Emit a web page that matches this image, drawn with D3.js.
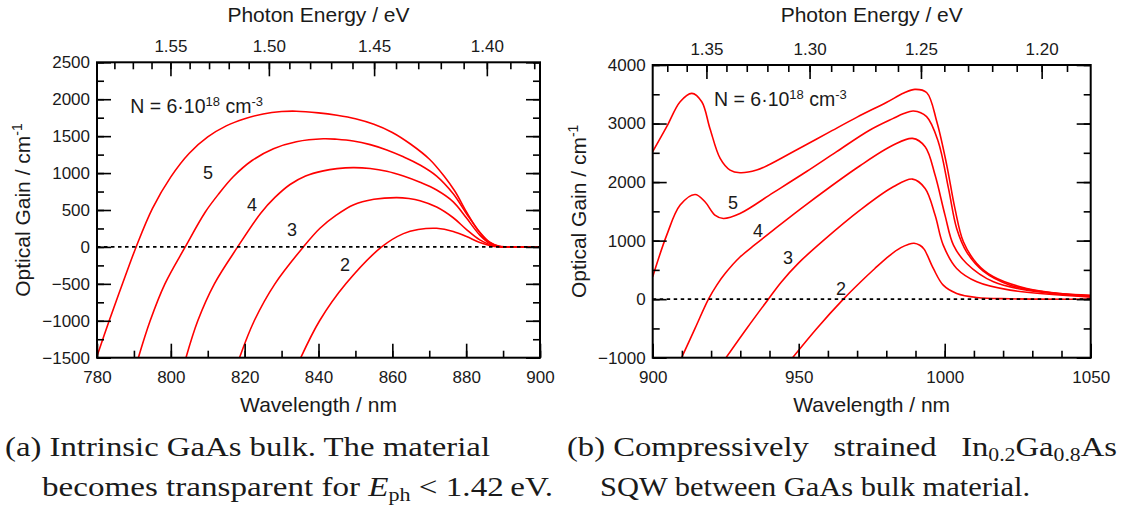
<!DOCTYPE html>
<meta charset="utf-8">
<html>

<head>
  <title>Optical gain spectra</title>
  <style>
    body { margin: 0; background: #fff; }
    text { font-family: "Liberation Sans", Arial, sans-serif; fill: #1a1a1a; }
    .cap { font-family: "Liberation Serif", "Times New Roman", serif; white-space: pre; }
  </style>
</head>

<body>
  <!-- Load d3.js -->
  <script src="https://d3js.org/d3.v7.min.js"></script>
  <div id="chart"></div>

  <script>
    // (a) intrinsic GaAs bulk : wavelength (nm) / gain (1/cm), one pair per curve label
    var bulkWl6 = [780, 783.3, 786.9, 790.6, 795, 800, 805, 810, 815, 820, 825, 830, 834, 840, 845, 850, 855, 860, 865, 870, 874, 877, 880, 883, 886, 889, 891, 900];
    var bulkG6 = [-1480, -1000, -500, 0, 519, 949, 1269, 1489, 1639, 1736, 1801, 1833, 1838, 1815, 1782, 1735, 1660, 1550, 1390, 1190, 960, 750, 480, 240, 70, 5, 0, 0];
    var bulkWl5 = [791.2, 794.4, 798.4, 803.9, 809.3, 813, 816.9, 822, 827.8, 834, 841.3, 845, 849.4, 854, 858.5, 863, 867.5, 872, 876.5, 880.1, 883.7, 886.5, 889, 891, 900];
    var bulkG5 = [-1500, -1000, -500, 0, 470, 720, 950, 1170, 1330, 1425, 1465, 1458, 1435, 1385, 1313, 1220, 1110, 960, 720, 450, 200, 60, 8, 0, 0];
    var bulkWl4 = [804.1, 807.3, 811.8, 818.1, 824.4, 828.2, 832.3, 836.5, 841.3, 845, 849.4, 854, 858.5, 863, 867.5, 872, 876.5, 880.1, 883.7, 886.5, 889, 891, 900];
    var bulkG4 = [-1500, -1000, -500, 0, 460, 670, 845, 960, 1030, 1060, 1074, 1062, 1025, 960, 875, 770, 610, 390, 160, 45, 5, 0, 0];
    var bulkWl3 = [818.6, 822.6, 828.2, 835.9, 840.4, 844.8, 849.4, 855, 861.2, 864.5, 867.5, 872, 876.5, 880.1, 883.7, 886.5, 889, 891, 900];
    var bulkG3 = [-1500, -1000, -500, 0, 253, 430, 569, 645, 668, 655, 625, 540, 395, 235, 95, 30, 3, 0, 0];
    var bulkWl2 = [835.2, 840.3, 847.4, 857.1, 863, 867, 872, 876.5, 880.1, 883.7, 886.5, 889, 891, 900];
    var bulkG2 = [-1500, -1000, -500, 0, 180, 235, 252, 210, 140, 60, 18, 2, 0, 0];

    // (b) In0.2Ga0.8As SQW
    var qwWl6 = [900, 904.8, 909.4, 913.4, 916.8, 919.6, 923.1, 926.5, 929.9, 935.6, 940, 950, 960, 970, 980, 986, 989.8, 993.8, 997.3, 1000.7, 1003.5, 1006.4, 1011, 1016.7, 1028.1, 1039.5, 1050];
    var qwG6 = [2519, 2946, 3373, 3516, 3373, 2917, 2405, 2205, 2160, 2205, 2300, 2570, 2840, 3110, 3360, 3520, 3584, 3530, 3031, 2291, 1550, 980, 610, 382, 182, 97, 68];
    var qwWl5 = [900, 904.8, 909.4, 914.5, 917.9, 921.3, 924.2, 929.9, 941.3, 952.7, 963, 974.4, 982.4, 986, 989.3, 993.8, 997.8, 1001.3, 1004.1, 1007.5, 1013.2, 1022.4, 1033.8, 1050];
    var qwG5 = [382, 1094, 1607, 1789, 1664, 1436, 1379, 1464, 1820, 2180, 2520, 2889, 3088, 3170, 3214, 3117, 2689, 1892, 1208, 809, 479, 239, 125, 57];
    var qwWl4 = [909.9, 914.5, 919.1, 922, 925, 929.9, 935, 941.3, 952.7, 971, 982.4, 989, 993.3, 996.7, 1000.1, 1003, 1007.5, 1016.7, 1028.1, 1050];
    var qwG4 = [-1000, -500, 0, 245, 450, 720, 930, 1180, 1620, 2279, 2632, 2746, 2604, 2120, 1436, 923, 610, 296, 154, 46];
    var qwWl3 = [925.1, 932.2, 939.6, 944, 950, 958.4, 971, 982.4, 989, 993.3, 996.7, 999.5, 1004.1, 1011, 1022.4, 1050];
    var qwG3 = [-1000, -500, 0, 290, 620, 1000, 1521, 1920, 2051, 1892, 1436, 923, 524, 296, 154, 34];
    var qwWl2 = [947.9, 956.2, 965.3, 971, 976, 981, 985, 987.5, 989.5, 991.5, 993, 996.1, 999.5, 1004.1, 1011, 1022.4, 1050];
    var qwG2 = [-1000, -500, 0, 285, 520, 740, 880, 935, 955, 920, 850, 524, 239, 97, 28, 6, 0];

    var curveNames = ["2", "3", "4", "5"];

    // tick values
    var bulkXTicks = [780, 800, 820, 840, 860, 880, 900];
    var bulkYTicks = [-1500, -1000, -500, 0, 500, 1000, 1500, 2000, 2500];
    var bulkETicks = [1.40, 1.45, 1.50, 1.55];
    var qwXTicks = [900, 950, 1000, 1050];
    var qwYTicks = [-1000, 0, 1000, 2000, 3000, 4000];
    var qwETicks = [1.20, 1.25, 1.30, 1.35];

    var hc = 1239.84; // eV nm

    var W = 1124, H = 507;
    var svg = d3.select("#chart").append("svg")
      .attr("width", W).attr("height", H);
    svg.append("rect").attr("width", W).attr("height", H).attr("fill", "#fff");

    function range(a, b, s) {
      var out = [];
      for (var v = a; v <= b + 1e-9; v += s) out.push(Math.round(v * 1000) / 1000);
      return out;
    }

    function minus(d) { return d < 0 ? "\u2212" + Math.abs(d) : "" + d; }

    function styleAxis(g) {
      g.select(".domain").remove();
      g.selectAll(".tick line").attr("stroke", "#000").attr("stroke-width", 1.6);
      g.selectAll("text").attr("font-family", "Liberation Sans, Arial, sans-serif")
        .attr("font-size", 17).attr("fill", "#1a1a1a");
    }

    function drawPanel(p) {
      var x = d3.scaleLinear().domain(p.xDomain).range([p.left, p.right]);
      var y = d3.scaleLinear().domain(p.yDomain).range([p.bottom, p.top]);
      var g = svg.append("g");

      svg.append("clipPath").attr("id", "clip" + p.id)
        .append("rect")
        .attr("x", p.left).attr("y", p.top)
        .attr("width", p.right - p.left).attr("height", p.bottom - p.top);

      var line = d3.line()
        .x(function (d) { return x(d[0]); })
        .y(function (d) { return y(d[1]); })
        .curve(d3.curveCatmullRom.alpha(0.5));

      p.curves.forEach(function (c) {
        g.append("path")
          .datum(d3.zip(c[0], c[1]))
          .attr("clip-path", "url(#clip" + p.id + ")")
          .attr("d", line)
          .attr("fill", "none")
          .attr("stroke", "#ff0000")
          .attr("stroke-width", 1.6);
      });

      // zero line
      g.append("line")
        .attr("x1", p.left).attr("x2", p.right)
        .attr("y1", y(0)).attr("y2", y(0))
        .attr("stroke", "#000").attr("stroke-width", 1.8)
        .attr("stroke-dasharray", "3.5,3.5");

      // bottom axis (wavelength), ticks pointing in
      var minorX = range(p.xDomain[0], p.xDomain[1], p.xMinor);
      g.append("g").attr("transform", "translate(0," + p.bottom + ")")
        .call(d3.axisBottom(x).tickValues(minorX).tickSizeInner(-7).tickSizeOuter(0).tickFormat(""))
        .call(styleAxis);
      g.append("g").attr("transform", "translate(0," + p.bottom + ")")
        .call(d3.axisBottom(x).tickValues(p.xTicks).tickSizeInner(-14).tickSizeOuter(0).tickPadding(13)
          .tickFormat(minus))
        .call(styleAxis);

      // left / right axes (gain)
      var minorY = range(p.yDomain[0], p.yDomain[1], p.yMinor);
      g.append("g").attr("transform", "translate(" + p.left + ",0)")
        .call(d3.axisLeft(y).tickValues(minorY).tickSizeInner(-7).tickSizeOuter(0).tickFormat(""))
        .call(styleAxis);
      g.append("g").attr("transform", "translate(" + p.left + ",0)")
        .call(d3.axisLeft(y).tickValues(p.yTicks).tickSizeInner(-14).tickSizeOuter(0).tickPadding(7)
          .tickFormat(minus))
        .call(styleAxis);
      g.append("g").attr("transform", "translate(" + p.right + ",0)")
        .call(d3.axisRight(y).tickValues(minorY).tickSizeInner(-7).tickSizeOuter(0).tickFormat(""))
        .call(styleAxis);
      g.append("g").attr("transform", "translate(" + p.right + ",0)")
        .call(d3.axisRight(y).tickValues(p.yTicks).tickSizeInner(-14).tickSizeOuter(0).tickFormat(""))
        .call(styleAxis);

      // top axis (photon energy), placed through the wavelength scale
      var eLo = Math.ceil(hc / p.xDomain[1] * 100) / 100;
      var eHi = Math.floor(hc / p.xDomain[0] * 100) / 100;
      var minorE = range(eLo, eHi, 0.01).map(function (e) { return hc / e; });
      g.append("g").attr("transform", "translate(0," + p.top + ")")
        .call(d3.axisTop(x).tickValues(minorE).tickSizeInner(-7).tickSizeOuter(0).tickFormat(""))
        .call(styleAxis);
      g.append("g").attr("transform", "translate(0," + p.top + ")")
        .call(d3.axisTop(x).tickValues(p.eTicks.map(function (e) { return hc / e; }))
          .tickSizeInner(-14).tickSizeOuter(0).tickPadding(10)
          .tickFormat(function (v) { return d3.format(".2f")(hc / v); }))
        .call(styleAxis);

      // frame
      g.append("rect")
        .attr("x", p.left).attr("y", p.top)
        .attr("width", p.right - p.left).attr("height", p.bottom - p.top)
        .attr("fill", "none").attr("stroke", "#000").attr("stroke-width", 2);

      // curve numbers
      p.labelPos.forEach(function (d, i) {
        g.append("text")
          .attr("x", x(d[0])).attr("y", y(d[1]))
          .attr("text-anchor", "middle").attr("dy", "0.36em")
          .attr("font-size", 18)
          .text(curveNames[i]);
      });

      // density note
      var note = g.append("text")
        .attr("x", x(p.note[0])).attr("y", y(p.note[1]))
        .attr("font-size", 19.5);
      note.append("tspan").text("N = 6\u00b710");
      note.append("tspan").attr("dy", -7).attr("font-size", 13).text("18");
      note.append("tspan").attr("dy", 7).text(" cm");
      note.append("tspan").attr("dy", -7).attr("font-size", 13).text("-3");

      // axis titles
      var cx = (p.left + p.right) / 2;
      g.append("text").attr("x", cx).attr("y", 22)
        .attr("text-anchor", "middle").attr("font-size", 21)
        .text("Photon Energy / eV");
      g.append("text").attr("x", cx).attr("y", 412)
        .attr("text-anchor", "middle").attr("font-size", 21)
        .text("Wavelength / nm");
      var yt = g.append("text")
        .attr("transform", "translate(" + p.yTitleX + "," + ((p.top + p.bottom) / 2) + ") rotate(-90)")
        .attr("text-anchor", "middle").attr("font-size", 21);
      yt.append("tspan").text("Optical Gain / cm");
      yt.append("tspan").attr("dy", -8).attr("font-size", 14).text("-1");
    }

    drawPanel({
      id: "a", left: 97, right: 540, top: 62.3, bottom: 357.7,
      xDomain: [780, 900], yDomain: [-1500, 2500],
      xTicks: bulkXTicks, xMinor: 10, yTicks: bulkYTicks, yMinor: 250, eTicks: bulkETicks,
      curves: [[bulkWl2, bulkG2], [bulkWl3, bulkG3], [bulkWl4, bulkG4], [bulkWl5, bulkG5], [bulkWl6, bulkG6]],
      labelPos: [[847.2, -244], [832.8, 230], [822, 569], [810.1, 1002]],
      note: [789, 1820],
      yTitleX: 30
    });

    drawPanel({
      id: "b", left: 652.7, right: 1090.7, top: 65, bottom: 357.7,
      xDomain: [900, 1050], yDomain: [-1000, 4000],
      xTicks: qwXTicks, xMinor: 10, yTicks: qwYTicks, yMinor: 500, eTicks: qwETicks,
      curves: [[qwWl2, qwG2], [qwWl3, qwG3], [qwWl4, qwG4], [qwWl5, qwG5], [qwWl6, qwG6]],
      labelPos: [[964.5, 188], [946.3, 718], [936.1, 1179], [927.5, 1658]],
      note: [921, 3300],
      yTitleX: 586
    });

    // sub-captions
    function caption(xp, yp, len, parts) {
      var t = svg.append("text").attr("class", "cap")
        .attr("x", xp).attr("y", yp).attr("font-size", 27)
        .attr("textLength", len).attr("lengthAdjust", "spacingAndGlyphs");
      parts.forEach(function (s) {
        var ts = t.append("tspan").text(s[0]);
        if (s[1]) ts.attr("dy", s[1]);
        if (s[2]) ts.attr("font-size", s[2]);
        if (s[3]) ts.attr("font-style", s[3]);
      });
    }
    caption(5, 456, 485, [["(a) Intrinsic GaAs bulk. The material"]]);
    caption(42, 496, 511, [["becomes transparent for "], ["E", 0, 0, "italic"], ["ph", 5, 18], [" < 1.42\u2009eV.", -5]]);
    caption(567, 456, 550, [["(b) Compressively   strained   In"], ["0.2", 5, 18], ["Ga", -5], ["0.8", 5, 18], ["As", -5]]);
    caption(600, 496, 430, [["SQW between GaAs bulk material."]]);
  </script>
</body>

</html>
